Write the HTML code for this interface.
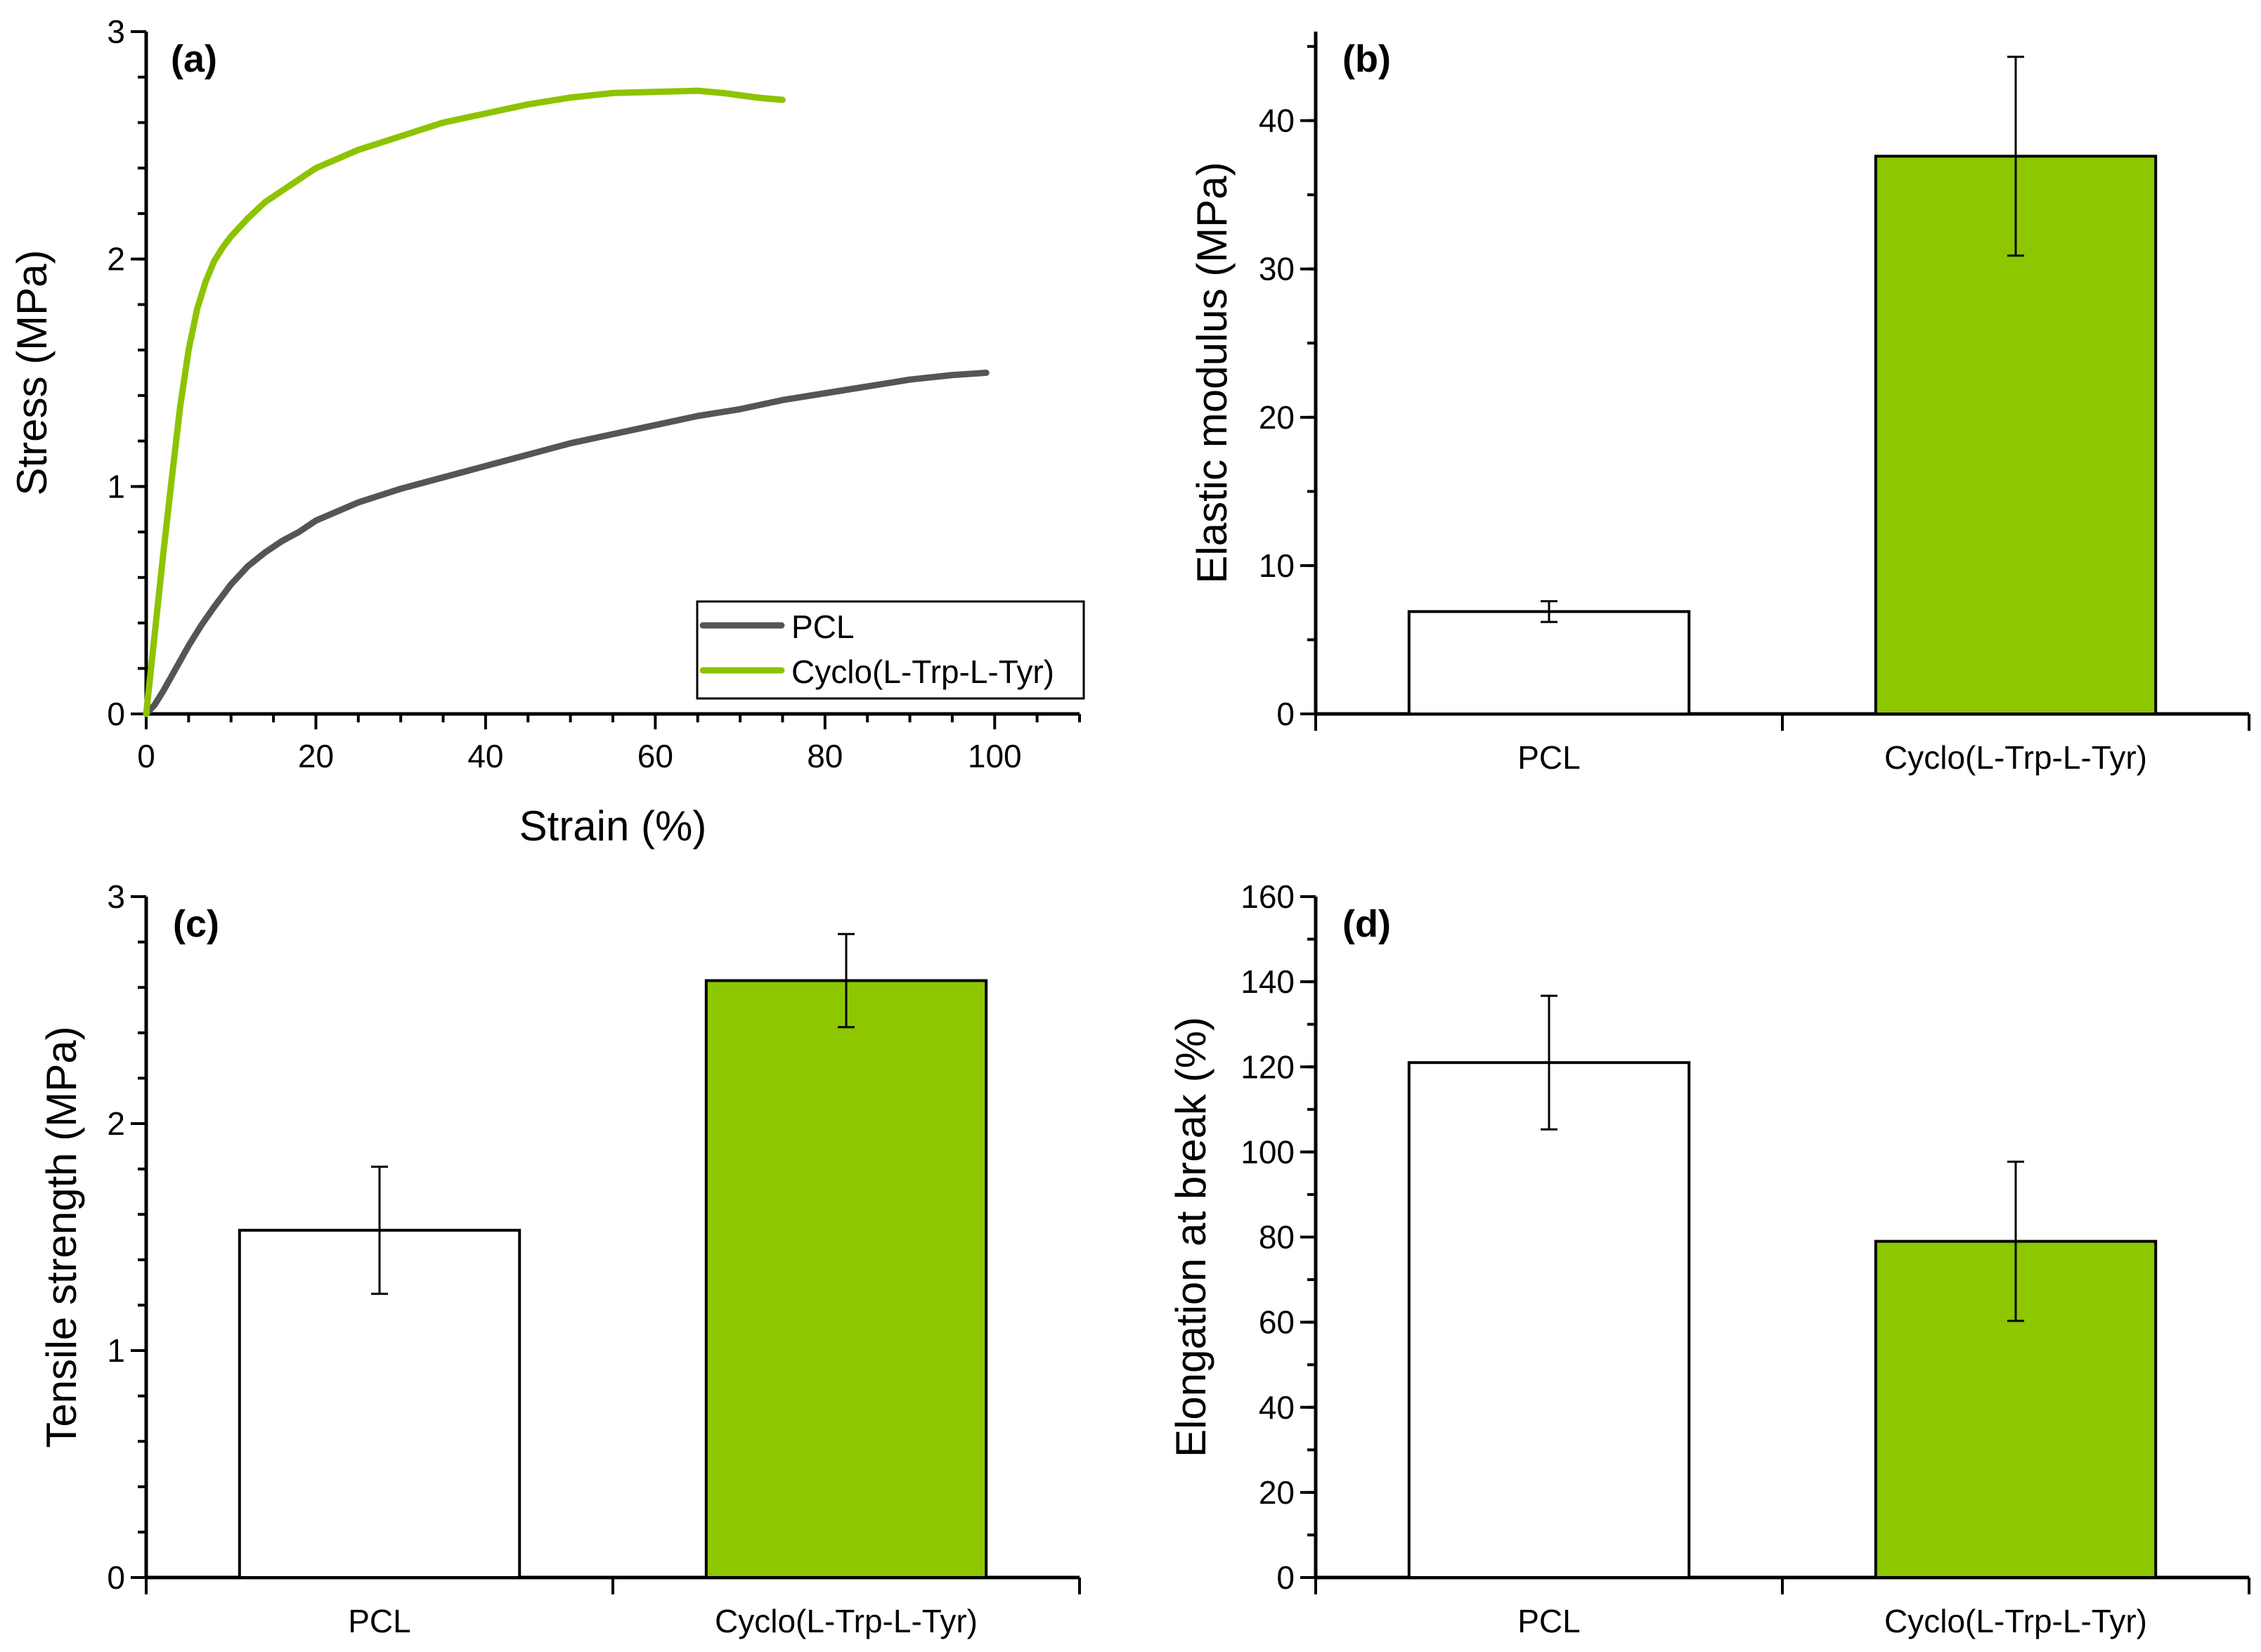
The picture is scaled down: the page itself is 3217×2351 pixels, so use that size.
<!DOCTYPE html>
<html><head><meta charset="utf-8"><style>
html,body{margin:0;padding:0;background:#fff;}
svg{display:block;font-family:"Liberation Sans",sans-serif;}
</style></head><body>
<svg id="fig" width="3217" height="2351" viewBox="0 0 3217 2351" xmlns="http://www.w3.org/2000/svg"></svg>
<script>
const pclStrain=[0,1,2,3.5,5,6.5,8,10,12,14,16,18,20,25,30,35,40,45,50,55,60,65,70,75,80,85,90,95,99];
const pclStress=[0,0.04,0.1,0.2,0.3,0.39,0.47,0.57,0.65,0.71,0.76,0.8,0.85,0.93,0.99,1.04,1.09,1.14,1.19,1.23,1.27,1.31,1.34,1.38,1.41,1.44,1.47,1.49,1.5];
const cycStrain=[0,1,2,3,4,5,6,7,8,9,10,12,14,16,18,20,25,30,35,40,45,50,55,60,65,68,72,75];
const cycStress=[0,0.35,0.7,1.03,1.35,1.6,1.78,1.9,1.99,2.05,2.1,2.18,2.25,2.3,2.35,2.4,2.48,2.54,2.6,2.64,2.68,2.71,2.73,2.735,2.74,2.73,2.71,2.7];
const categories=["PCL","Cyclo(L-Trp-L-Tyr)"];
const modulusVals=[6.9,37.6];
const modulusErr=[0.7,6.7];
const strengthVals=[1.53,2.63];
const strengthErr=[0.28,0.205];
const elongVals=[121,79];
const elongErr=[15.7,18.7];
const modTicks=[0,10,20,30,40];
const strTicks=[0,1,2,3];
const elTicks=[0,20,40,60,80,100,120,140,160];
const stressTicks=[0,1,2,3];
const strainTicks=[0,20,40,60,80,100];

const NS="http://www.w3.org/2000/svg";
const svg=document.getElementById('fig');
function mk(tag,attrs,parent){const e=document.createElementNS(NS,tag);for(const k in attrs)e.setAttribute(k,attrs[k]);(parent||svg).appendChild(e);return e;}
function txt(s,attrs,parent){const e=mk('text',attrs,parent);e.textContent=s;return e;}

function yAxis(g,x,y0,y1,vmin,vmax,majors,minorStep,title,titleX){
  const sy=v=>y0-(v-vmin)/(vmax-vmin)*(y0-y1);
  const ax=mk('line',{x1:x,y1:y0,x2:x,y2:y1,stroke:'#000','stroke-width':5},g);
  
  
  for(let v=vmin;v<=vmax+1e-9;v+=minorStep){
    const t=mk('line',{x1:x-12,y1:sy(v),x2:x,y2:sy(v),stroke:'#000','stroke-width':4},g);
    
    
  }
  majors.forEach(v=>{
    const t=mk('line',{x1:x-22,y1:sy(v),x2:x,y2:sy(v),stroke:'#000','stroke-width':4},g);
    
    
    const l=txt(String(v),{x:x-30,y:sy(v)+16,'font-size':46,'text-anchor':'end'},g);
    
    
  });
  const cy=(y0+y1)/2;
  const tt=txt(title,{x:titleX,y:cy,'font-size':60,'text-anchor':'middle',transform:`rotate(-90 ${titleX} ${cy})`},g);
  
  
  return sy;
}
function panelLabel(g,s,x,y){const t=txt(s,{x:x,y:y,'font-size':54,'font-weight':'bold'},g);}

// Panel (a)
(function(){
  const g=mk('g',{});
  
  
  const X0=208,X1=1536,Y0=1016,Y1=45;
  const sx=v=>X0+v/110*(X1-X0);
  const sy=yAxis(g,X0,Y0,Y1,0,3,stressTicks,0.2,'Stress (MPa)',66);
  const xa=mk('line',{x1:X0,y1:Y0,x2:X1,y2:Y0,stroke:'#000','stroke-width':5},g);
  
  
  for(let v=0;v<=110;v+=5){
    const t=mk('line',{x1:sx(v),y1:Y0,x2:sx(v),y2:Y0+(v%20===0?22:12),stroke:'#000','stroke-width':4},g);
    
    
  }
  strainTicks.forEach(v=>{const l=txt(String(v),{x:sx(v),y:Y0+76,'font-size':46,'text-anchor':'middle'},g);});
  const xt=txt('Strain (%)',{x:872,y:1196,'font-size':60,'text-anchor':'middle'},g);
  
  
  const p1=mk('polyline',{points:pclStrain.map((v,i)=>sx(v)+','+sy(pclStress[i])).join(' '),fill:'none',stroke:'#555555','stroke-width':9,'stroke-linejoin':'round','stroke-linecap':'round'},g);
  
  
  const p2=mk('polyline',{points:cycStrain.map((v,i)=>sx(v)+','+sy(cycStress[i])).join(' '),fill:'none',stroke:'#8dc300','stroke-width':9,'stroke-linejoin':'round','stroke-linecap':'round'},g);
  
  
  const lg=mk('g',{},g);
  
  
  mk('rect',{x:992,y:856,width:550,height:138,fill:'#fff',stroke:'#000','stroke-width':3},lg);
  const e1=mk('line',{x1:1000,y1:890,x2:1112,y2:890,stroke:'#555555','stroke-width':9,'stroke-linecap':'round'},lg);
  
  
  txt('PCL',{x:1126,y:908,'font-size':46},lg);
  const e2=mk('line',{x1:1000,y1:954,x2:1112,y2:954,stroke:'#8dc300','stroke-width':9,'stroke-linecap':'round'},lg);
  
  
  txt('Cyclo(L-Trp-L-Tyr)',{x:1126,y:972,'font-size':46},lg);
  panelLabel(g,'(a)',243,102);
})();

function barPanel(name,X0,X1,Y0,Y1,vmax,majors,minorStep,vals,errs,title,titleX,label){
  const g=mk('g',{});
  
  
  const sy=yAxis(g,X0,Y0,Y1,0,vmax,majors,minorStep,title,titleX);
  const xa=mk('line',{x1:X0,y1:Y0,x2:X1,y2:Y0,stroke:'#000','stroke-width':5},g);
  
  
  const W=X1-X0, n=categories.length;
  for(let i=0;i<=n;i++){
    const t=mk('line',{x1:X0+i*W/n,y1:Y0,x2:X0+i*W/n,y2:Y0+24,stroke:'#000','stroke-width':4},g);
    
    
  }
  const bw=W/n*0.6;
  vals.forEach((v,i)=>{
    const cx=X0+(i+0.5)*W/n;
    const b=mk('rect',{x:cx-bw/2,y:sy(v),width:bw,height:Y0-sy(v),fill:i===0?'#ffffff':'#8cc700',stroke:'#000','stroke-width':4},g);
    
    
    const e=mk('path',{d:`M${cx},${sy(v+errs[i])}V${sy(v-errs[i])}M${cx-12},${sy(v+errs[i])}H${cx+12}M${cx-12},${sy(v-errs[i])}H${cx+12}`,stroke:'#000','stroke-width':3,fill:'none'},g);
    
    
    const l=txt(categories[i],{x:cx,y:Y0+78,'font-size':46,'text-anchor':'middle'},g);
    
    
  });
  panelLabel(g,label,X0+38,Y1+57);
}
barPanel('panel-b-elastic-modulus',1872,3200,1016,45,46,modTicks,5,modulusVals,modulusErr,'Elastic modulus (MPa)',1745,'(b)');
barPanel('panel-c-tensile-strength',208,1536,2245,1276,3,strTicks,0.2,strengthVals,strengthErr,'Tensile strength (MPa)',108,'(c)');
barPanel('panel-d-elongation',1872,3200,2245,1276,160,elTicks,10,elongVals,elongErr,'Elongation at break (%)',1715,'(d)');
</script>
</body></html>
